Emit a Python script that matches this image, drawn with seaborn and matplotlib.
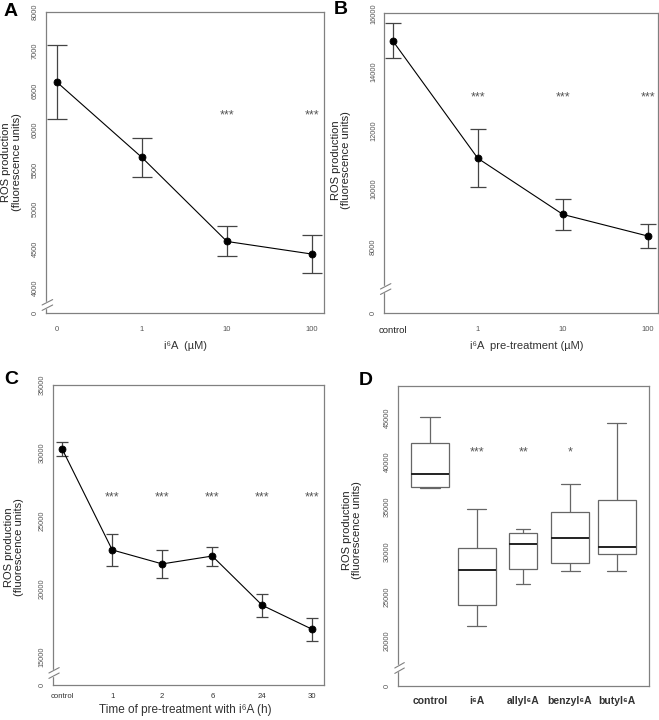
import numpy as np
import pandas as pd
import matplotlib
matplotlib.use("Agg")
import matplotlib.pyplot as plt
from matplotlib.patches import Rectangle
import seaborn as sns

# A: ROS after i6A treatment
conc_a = ["0", "1", "10", "100"]
ros_a = [6610, 5655, 4590, 4430]
sd_a = [470, 250, 190, 245]
stars_a = ["", "", "***", "***"]

# B: ROS after i6A pre-treatment
conc_b = ["control", "1", "10", "100"]
ros_b = [15060, 11040, 9120, 8380]
sd_b = [600, 990, 540, 415]
stars_b = ["", "***", "***", "***"]

# C: time course of pre-treatment
time_c = ["control", "1", "2", "6", "24", "30"]
ros_c = [30280, 22850, 21820, 22400, 18770, 17000]
sd_c = [520, 1200, 1040, 700, 870, 860]
stars_c = ["", "***", "***", "***", "***", "***"]

# D: whisker-low, lower hinge, median, upper hinge, whisker-high
groups_d = ["control", "i⁶A", "allyl⁶A", "benzyl⁶A", "butyl⁶A"]
control_d = [37140, 37250, 38630, 42090, 45000]
i6a_d = [21710, 24020, 27930, 30360, 34720]
allyl_d = [26370, 28080, 30800, 32030, 32480]
benzyl_d = [27820, 28680, 31480, 34380, 37510]
butyl_d = [27820, 29690, 30470, 35760, 44330]
stars_d = ["", "***", "**", "*", ""]

# y ticks (the lowest one is the broken "0")
yticks_a = [3690, 4000, 4500, 5000, 5500, 6000, 6500, 7000, 7500]
ylabels_a = ["0", "4000", "4500", "5000", "5500", "6000", "6500", "7000", "8000"]
yticks_b = [5750, 8000, 10000, 12000, 14000, 16000]
ylabels_b = ["0", "8000", "10000", "12000", "14000", "16000"]
yticks_c = [12900, 15000, 20000, 25000, 30000, 35000]
ylabels_c = ["0", "15000", "20000", "25000", "30000", "35000"]
yticks_d = [14970, 20000, 25000, 30000, 35000, 40000, 45000]
ylabels_d = ["0", "20000", "25000", "30000", "35000", "40000", "45000"]

sns.set_style("white")
plt.rcParams["font.family"] = ["Liberation Sans", "DejaVu Sans"]

GREY = "#808080"
TXT = "#555555"


def style_axes(ax, yticks, ylabels, ytop, brk, xpad):
    for s in ax.spines.values():
        s.set_visible(True)
        s.set_color(GREY)
        s.set_linewidth(0.9)
    ax.set_ylim(yticks[0], ytop)
    ax.set_yticks(yticks)
    ax.set_yticklabels(ylabels, rotation=90, va="center")
    ax.tick_params(axis="both", direction="out", length=3.2, width=0.8,
                   color=GREY, labelcolor=TXT)
    ax.tick_params(axis="y", labelsize=5.3, pad=2)
    ax.tick_params(axis="x", pad=xpad)
    # broken axis marks
    ax.add_patch(Rectangle((-0.02, brk - 0.01), 0.04, 0.02, transform=ax.transAxes,
                           color="white", clip_on=False, zorder=5))
    for dy in (-0.009, 0.009):
        ax.plot([-0.014, 0.024], [brk + dy - 0.009, brk + dy + 0.009],
                transform=ax.transAxes, color=GREY, lw=0.8, clip_on=False, zorder=6)
    ax.set_ylabel("ROS production\n(fluorescence units)", fontsize=8, color="#222",
                  linespacing=1.05)


def line_panel(ax, cats, vals, sds, stars, star_y, cap):
    sns.pointplot(x=cats, y=vals, order=cats, color="black", markers="o",
                  markersize=5, linewidth=0.8, errorbar=None, ax=ax, zorder=3)
    ax.errorbar(np.arange(len(cats)), vals, yerr=sds, fmt="none", ecolor="#444444",
                elinewidth=0.9, capsize=cap, capthick=0.9, zorder=2)
    for i, s in enumerate(stars):
        ax.text(i, star_y, s, ha="center", va="center", fontsize=9, color=TXT)
    ax.set_xlabel("")


fig = plt.figure(figsize=(6.59, 7.2), dpi=100)
ax_a = fig.add_axes([46 / 659, 1 - 312.5 / 720, 278 / 659, 300.8 / 720])
ax_b = fig.add_axes([384.3 / 659, 1 - 313 / 720, 274 / 659, 299.7 / 720])
ax_c = fig.add_axes([52.7 / 659, 1 - 685 / 720, 271.3 / 659, 300 / 720])
ax_d = fig.add_axes([398.3 / 659, 1 - 686 / 720, 250.7 / 659, 300 / 720])

# A
line_panel(ax_a, conc_a, ros_a, sd_a, stars_a, 6180, 7)
style_axes(ax_a, yticks_a, ylabels_a, 7500, 0.025, 6.5)
ax_a.set_xlim(-0.126, 3.141)
ax_a.set_xticks(range(len(conc_a)))
ax_a.set_xticklabels(conc_a, fontsize=5.5, color=TXT)
ax_a.set_xlabel("i⁶A  (µM)", fontsize=8, color="#333")
ax_a.xaxis.set_label_coords(0.5, -0.095)
ax_a.yaxis.set_label_coords(-0.088, 0.5)

# B
line_panel(ax_b, conc_b, ros_b, sd_b, stars_b, 13120, 6)
style_axes(ax_b, yticks_b, ylabels_b, 16000, 0.08, 6.5)
ax_b.set_xlim(-0.099, 3.12)
ax_b.set_xticks(range(len(conc_b)))
ax_b.set_xticklabels(conc_b, fontsize=5.5, color=TXT)
ax_b.get_xticklabels()[0].set(fontsize=6.8, color="#222")
ax_b.set_xlabel("i⁶A  pre-treatment (µM)", fontsize=8, color="#333")
ax_b.xaxis.set_label_coords(0.52, -0.095)
ax_b.yaxis.set_label_coords(-0.12, 0.51)

# C
line_panel(ax_c, time_c, ros_c, sd_c, stars_c, 26700, 4.3)
style_axes(ax_c, yticks_c, ylabels_c, 35000, 0.04, 2.5)
ax_c.set_xlim(-0.19, 5.234)
ax_c.set_xticks(range(len(time_c)))
ax_c.set_xticklabels(time_c, fontsize=5.6, color="#333")
ax_c.set_xlabel("Time of pre-treatment with i⁶A (h)", fontsize=8.5, color="#333")
ax_c.xaxis.set_label_coords(0.49, -0.062)
ax_c.yaxis.set_label_coords(-0.105, 0.46)

# D
df_d = pd.DataFrame({
    "group": np.repeat(groups_d, 5),
    "ros": np.concatenate([control_d, i6a_d, allyl_d, benzyl_d, butyl_d]),
})
box_kw = dict(x="group", y="ros", order=groups_d, color="white", linecolor="#666666",
              linewidth=0.9, whis=(0, 100), ax=ax_d,
              medianprops=dict(color="#222222", linewidth=1.4))
sns.boxplot(data=df_d[df_d["group"] != "allyl⁶A"], width=0.82, **box_kw)
sns.boxplot(data=df_d[df_d["group"] == "allyl⁶A"], width=0.6, **box_kw)
for i, s in enumerate(stars_d):
    ax_d.text(i, 41100, s, ha="center", va="center", fontsize=9, color=TXT)
style_axes(ax_d, yticks_d, ylabels_d, 48500, 0.06, 4)
ax_d.set_xlim(-0.68, 4.69)
ax_d.set_xticks(range(len(groups_d)))
ax_d.set_xticklabels(groups_d, fontsize=7.5, fontweight="bold", color="#333")
ax_d.set_xlabel("")
ax_d.yaxis.set_label_coords(-0.145, 0.52)

# panel letters
for x, y, lab in [(4, 3, "A"), (334, 1, "B"), (4, 371, "C"), (359, 372, "D")]:
    fig.text(x / 659, 1 - y / 720, lab, fontsize=14, fontweight="bold",
             ha="left", va="top", color="black")

fig.savefig("out.png", dpi=100)
